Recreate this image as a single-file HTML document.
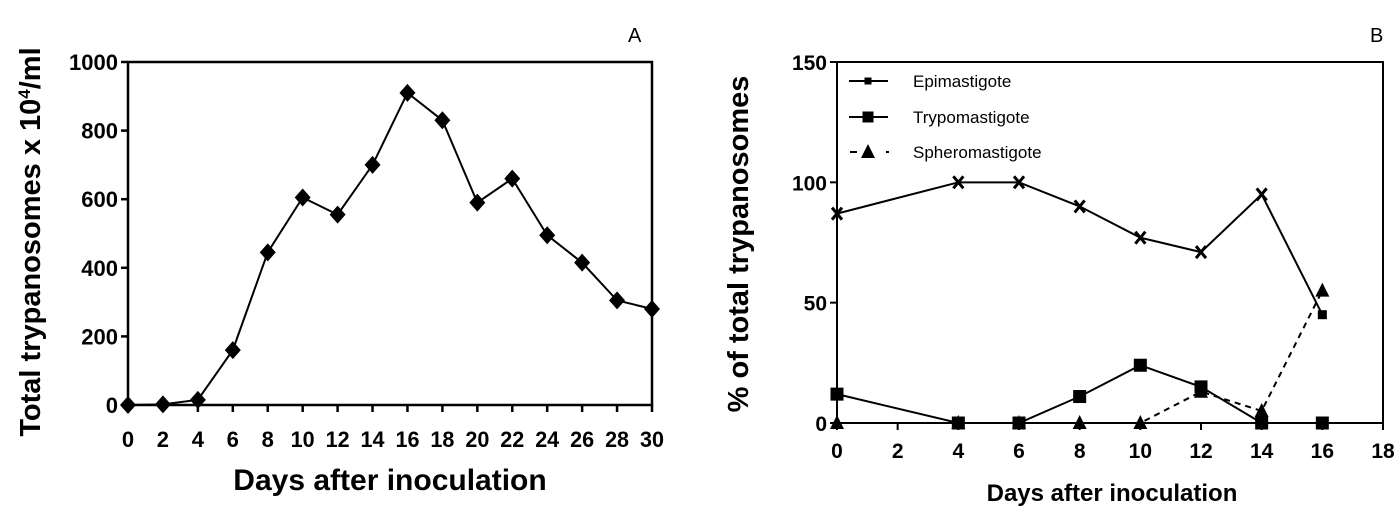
<!DOCTYPE html>
<html><head><meta charset="utf-8"><style>
body{margin:0;background:#fff;}
svg{display:block;font-family:"Liberation Sans",Arial,sans-serif;font-weight:bold;}
</style></head><body>
<svg id="c" width="1400" height="518" viewBox="0 0 1400 518" xmlns="http://www.w3.org/2000/svg"></svg>
<script>
const daysA=[0,2,4,6,8,10,12,14,16,18,20,22,24,26,28,30];
const totalA=[0,2,15,160,445,605,555,700,910,830,590,660,495,415,305,280];
const yTicksA=[0,200,400,600,800,1000];
const xTicksA=[0,2,4,6,8,10,12,14,16,18,20,22,24,26,28,30];
const daysB=[0,4,6,8,10,12,14,16];
const epiB=[87,100,100,90,77,71,95,45];
const trypB=[12,0,0,11,24,15,0,0];
const sphB=[0,0,0,0,0,13,5,55];
const yTicksB=[0,50,100,150];
const xTicksB=[0,2,4,6,8,10,12,14,16,18];
const NS="http://www.w3.org/2000/svg";
const svg=document.getElementById('c');
function el(t,a,p){const e=document.createElementNS(NS,t);for(const k in a)e.setAttribute(k,a[k]);(p||svg).appendChild(e);return e;}
// Panel A
const xA=v=>128+(v-0)/30*(652-128);
const yA=v=>405-(v/1000)*(405-62);
const gA=el('g',{});


el('path',{d:`M${xA(0)},62 H652 V405 H${xA(0)} Z`,fill:'none',stroke:'#000','stroke-width':2.5},gA);
yTicksA.forEach(v=>{el('line',{x1:xA(0)-7,x2:xA(0),y1:yA(v),y2:yA(v),stroke:'#000','stroke-width':2.5},gA);
const t=el('text',{x:xA(0)-10,y:yA(v)+8,'text-anchor':'end','font-size':22},gA);t.textContent=v;
});
xTicksA.forEach(v=>{el('line',{x1:xA(v),x2:xA(v),y1:405,y2:412,stroke:'#000','stroke-width':2.5},gA);
const t=el('text',{x:xA(v),y:447,'text-anchor':'middle','font-size':22,'textLength':v>=10?24:'', 'lengthAdjust':'spacingAndGlyphs'},gA);if(v<10)t.removeAttribute('textLength');t.textContent=v;
});
el('polyline',{points:daysA.map((d,i)=>xA(d)+','+yA(totalA[i])).join(' '),fill:'none',stroke:'#000','stroke-width':2},gA);
daysA.forEach((d,i)=>{const m=el('path',{d:`M${xA(d)},${yA(totalA[i])-9} l8,9 l-8,9 l-8,-9 Z`,fill:'#000'},gA);
});
let t=el('text',{x:390,y:490,'text-anchor':'middle','font-size':30},gA);t.textContent='Days after inoculation';

t=el('text',{transform:'translate(40,242) rotate(-90)','text-anchor':'middle','font-size':29},gA);
t.innerHTML='Total trypanosomes x 10<tspan dy="-10" font-size="17">4</tspan><tspan dy="10">/ml</tspan>';

t=el('text',{x:628,y:42,'font-size':20,'font-weight':'normal'},gA);t.textContent='A';

// Panel B
const xB=v=>837+v/18*(1383-837);
const yB=v=>423-v/150*(423-62);
const gB=el('g',{});


el('path',{d:`M837,62 H1383 V423 H837 Z`,fill:'none',stroke:'#000','stroke-width':2},gB);
yTicksB.forEach(v=>{el('line',{x1:830,x2:837,y1:yB(v),y2:yB(v),stroke:'#000','stroke-width':2},gB);
const t=el('text',{x:827,y:yB(v)+8,'text-anchor':'end','font-size':21},gB);t.textContent=v;
});
xTicksB.forEach(v=>{el('line',{x1:xB(v),x2:xB(v),y1:423,y2:430,stroke:'#000','stroke-width':2},gB);
const t=el('text',{x:xB(v),y:458,'text-anchor':'middle','font-size':21},gB);t.textContent=v;
});
const line=(arr,dash)=>el('polyline',{points:daysB.map((d,i)=>xB(d)+','+yB(arr[i])).join(' '),fill:'none',stroke:'#000','stroke-width':2,'stroke-dasharray':dash||'none'},gB);
const l1=line(epiB);
const l2=line(trypB);
const l3=line(sphB,'6,5');
const cross=(x,y,g)=>el('path',{d:`M${x-5},${y-6} L${x+5},${y+6} M${x+5},${y-6} L${x-5},${y+6}`,stroke:'#000','stroke-width':3},g);
const sq=(x,y,g,s)=>el('rect',{x:x-s/2,y:y-s/2,width:s,height:s,fill:'#000'},g);
const tri=(x,y,g)=>el('path',{d:`M${x},${y-8} L${x+7},${y+6} L${x-7},${y+6} Z`,fill:'#000'},g);
daysB.forEach((d,i)=>{const m=d===16?sq(xB(d),yB(epiB[i]),gB,9):cross(xB(d),yB(epiB[i]),gB);});
daysB.forEach((d,i)=>{const m=tri(xB(d),yB(sphB[i]),gB);});
daysB.forEach((d,i)=>{const m=sq(xB(d),yB(trypB[i]),gB,13);});
// legend
const lg=el('g',{},gB);
const items=[['Epimastigote',81],['Trypomastigote',117],['Spheromastigote',152]];
items.forEach(([n,y],i)=>{
 if(i<2){el('line',{x1:849,x2:888,y1:y,y2:y,stroke:'#000','stroke-width':2},lg);sq(868,y,lg,i===0?7:11);}
 else{el('line',{x1:850,x2:857,y1:y,y2:y,stroke:'#000','stroke-width':2},lg);tri(868,y,lg);el('line',{x1:886,x2:889,y1:y,y2:y,stroke:'#000','stroke-width':2},lg);}
 const t=el('text',{x:913,y:y+6,'font-size':17,'font-weight':'normal'},lg);t.textContent=n;
 });
t=el('text',{x:1112,y:501,'text-anchor':'middle','font-size':24},gB);t.textContent='Days after inoculation';

t=el('text',{transform:'translate(748,244) rotate(-90)','text-anchor':'middle','font-size':29},gB);t.textContent='% of total trypanosomes';

t=el('text',{x:1370,y:42,'font-size':20,'font-weight':'normal'},gB);t.textContent='B';

</script>
</body></html>
